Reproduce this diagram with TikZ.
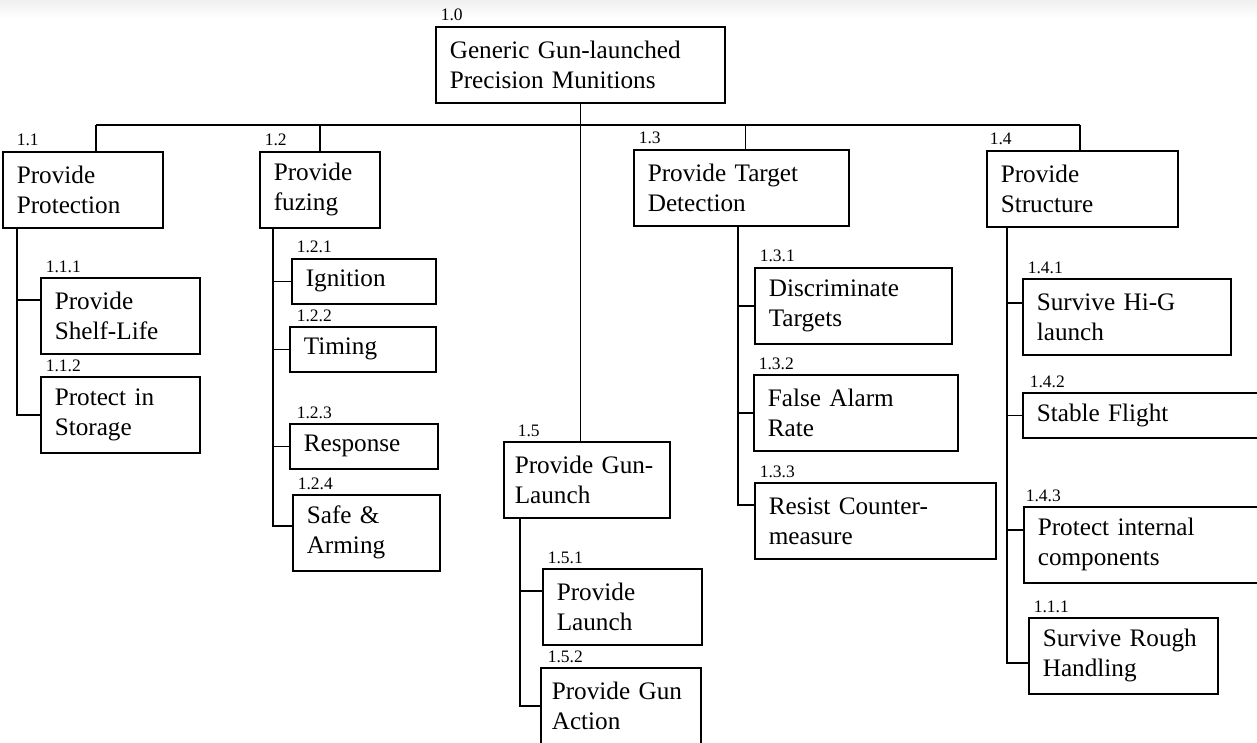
\documentclass[tikz,border=0pt]{standalone}
\usepackage{fontspec}
\setmainfont{Liberation Serif}
\usetikzlibrary{calc}

\begin{document}
\begin{tikzpicture}[
  x=0.5pt, y=-0.5pt,
  line width=0.8pt,
  bx/.style={draw, anchor=north west, align=left, font=\fontsize{12.6}{15}\selectfont,
             inner xsep=7pt, inner ysep=0pt, minimum height=38pt},
  bx1/.style={bx, minimum height=22.5pt},
  num/.style={anchor=base west, inner sep=0pt, font=\fontsize{8.75}{10}\selectfont,
              xshift=2.5pt, yshift=2.5pt}
]
\useasboundingbox (0,0) rectangle (1257,743);
\clip (0,0) rectangle (1257,743);
\shade[top color=gray!12, bottom color=white] (0,0) rectangle (1257,18);

\node[bx, text width=130.5pt] (p10) at (435,26) {Generic Gun-launched\\Precision Munitions};
\node[bx, text width=66pt]  (p11) at (2,151)   {Provide\\Protection};
\node[bx, text width=46pt]  (p12) at (259,151) {Provide\\fuzing};
\node[bx, text width=93.5pt] (p13) at (633,149) {Provide Target\\Detection};
\node[bx, text width=81.5pt] (p14) at (986,150) {Provide\\Structure};
\node[bx, text width=72pt, inner xsep=5.5pt] (p15) at (503,441) {Provide Gun-\\Launch};

\node[bx, text width=65.5pt] (c111) at (40,277) {Provide\\Shelf-Life};
\node[bx, text width=65.5pt] (c112) at (40,376) {Protect in\\Storage};
\node[bx1, text width=58pt]  (c121) at (291,258) {Ignition};
\node[bx1, text width=59pt]  (c122) at (289,326) {Timing};
\node[bx1, text width=60pt]  (c123) at (289,423) {Response};
\node[bx, text width=59.5pt] (c124) at (292,494) {Safe \&\\Arming};
\node[bx, text width=84.5pt] (c131) at (754,267) {Discriminate\\Targets};
\node[bx, text width=88pt]   (c132) at (753,374) {False Alarm\\Rate};
\node[bx, text width=106.5pt] (c133) at (754,482) {Resist Counter-\\measure};
\node[bx, text width=90pt]   (c141) at (1022,278) {Survive Hi-G\\launch};
\node[bx1, text width=116pt] (c142) at (1022,392) {Stable Flight};
\node[bx, text width=116pt]  (c143) at (1023,506) {Protect internal\\components};
\node[bx, text width=80.5pt] (c144) at (1028,617) {Survive Rough\\Handling};
\node[bx, text width=65.5pt] (c151) at (542,568) {Provide\\Launch};
\node[bx, text width=69pt, inner xsep=5.5pt] (c152) at (540,667) {Provide Gun\\Action};

\node[num] (n10) at (p10.north west) {1.0};
\node[num, xshift=4.5pt] (n11) at (p11.north west) {1.1};
\node[num] (n12) at (p12.north west) {1.2};
\node[num] (n13) at (p13.north west) {1.3};
\node[num, xshift=-1pt] (n14) at (p14.north west) {1.4};
\node[num, xshift=4.5pt] (n15) at (p15.north west) {1.5};
\node[num] (n111) at (c111.north west) {1.1.1};
\node[num] (n112) at (c112.north west) {1.1.2};
\node[num] (n121) at (c121.north west) {1.2.1};
\node[num, xshift=1pt] (n122) at (c122.north west) {1.2.2};
\node[num, xshift=1pt] (n123) at (c123.north west) {1.2.3};
\node[num] (n124) at (c124.north west) {1.2.4};
\node[num] (n131) at (c131.north west) {1.3.1};
\node[num] (n132) at (c132.north west) {1.3.2};
\node[num] (n133) at (c133.north west) {1.3.3};
\node[num] (n141) at (c141.north west) {1.4.1};
\node[num, xshift=1pt] (n142) at (c142.north west) {1.4.2};
\node[num, xshift=-1.5pt] (n143) at (c143.north west) {1.4.3};
\node[num] (n144) at (c144.north west) {1.1.1};
\node[num] (n151) at (c151.north west) {1.5.1};
\node[num, xshift=1pt] (n152) at (c152.north west) {1.5.2};

\coordinate (bl) at (96,125);
\coordinate (br) at (1080,125);
\draw (bl) -- (br);
\draw (bl) -- (bl |- p11.north);
\draw (p12.north) -- (p12.north |- bl);
\draw ([xshift=2pt]p13.north) -- ([xshift=2pt]p13.north |- bl);
\draw (br) -- (br |- p14.north);
\draw (p10.south) -- (p10.south |- p15.north);

\coordinate (s11) at ([xshift=7.5pt]p11.south west);
\coordinate (k111) at ([yshift=8pt]c111.west);
\draw (s11) |- (c112.west);
\draw (k111) -- (k111 -| s11);

\coordinate (s12) at ([xshift=7pt]p12.south west);
\coordinate (k124) at ([yshift=3.5pt]c124.west);
\draw (s12) |- (k124);
\draw (c121.west) -- (c121.west -| s12);
\draw (c122.west) -- (c122.west -| s12);
\draw (c123.west) -- (c123.west -| s12);

\coordinate (s13) at ([xshift=52.5pt]p13.south west);
\coordinate (k133) at ([yshift=8pt]c133.west);
\draw (s13) |- (k133);
\draw (c131.west) -- (c131.west -| s13);
\draw (c132.west) -- (c132.west -| s13);

\coordinate (s14) at ([xshift=10.5pt]p14.south west);
\coordinate (k141) at ([yshift=7pt]c141.west);
\coordinate (k143) at ([yshift=7.5pt]c143.west);
\coordinate (k144) at ([yshift=-3.5pt]c144.west);
\draw (s14) |- (k144);
\draw (k141) -- (k141 -| s14);
\draw (c142.west) -- (c142.west -| s14);
\draw (k143) -- (k143 -| s14);

\coordinate (s15) at ([xshift=8.5pt]p15.south west);
\coordinate (k151) at ([yshift=8pt]c151.west);
\draw (s15) |- (c152.west);
\draw (k151) -- (k151 -| s15);
\end{tikzpicture}
\end{document}
